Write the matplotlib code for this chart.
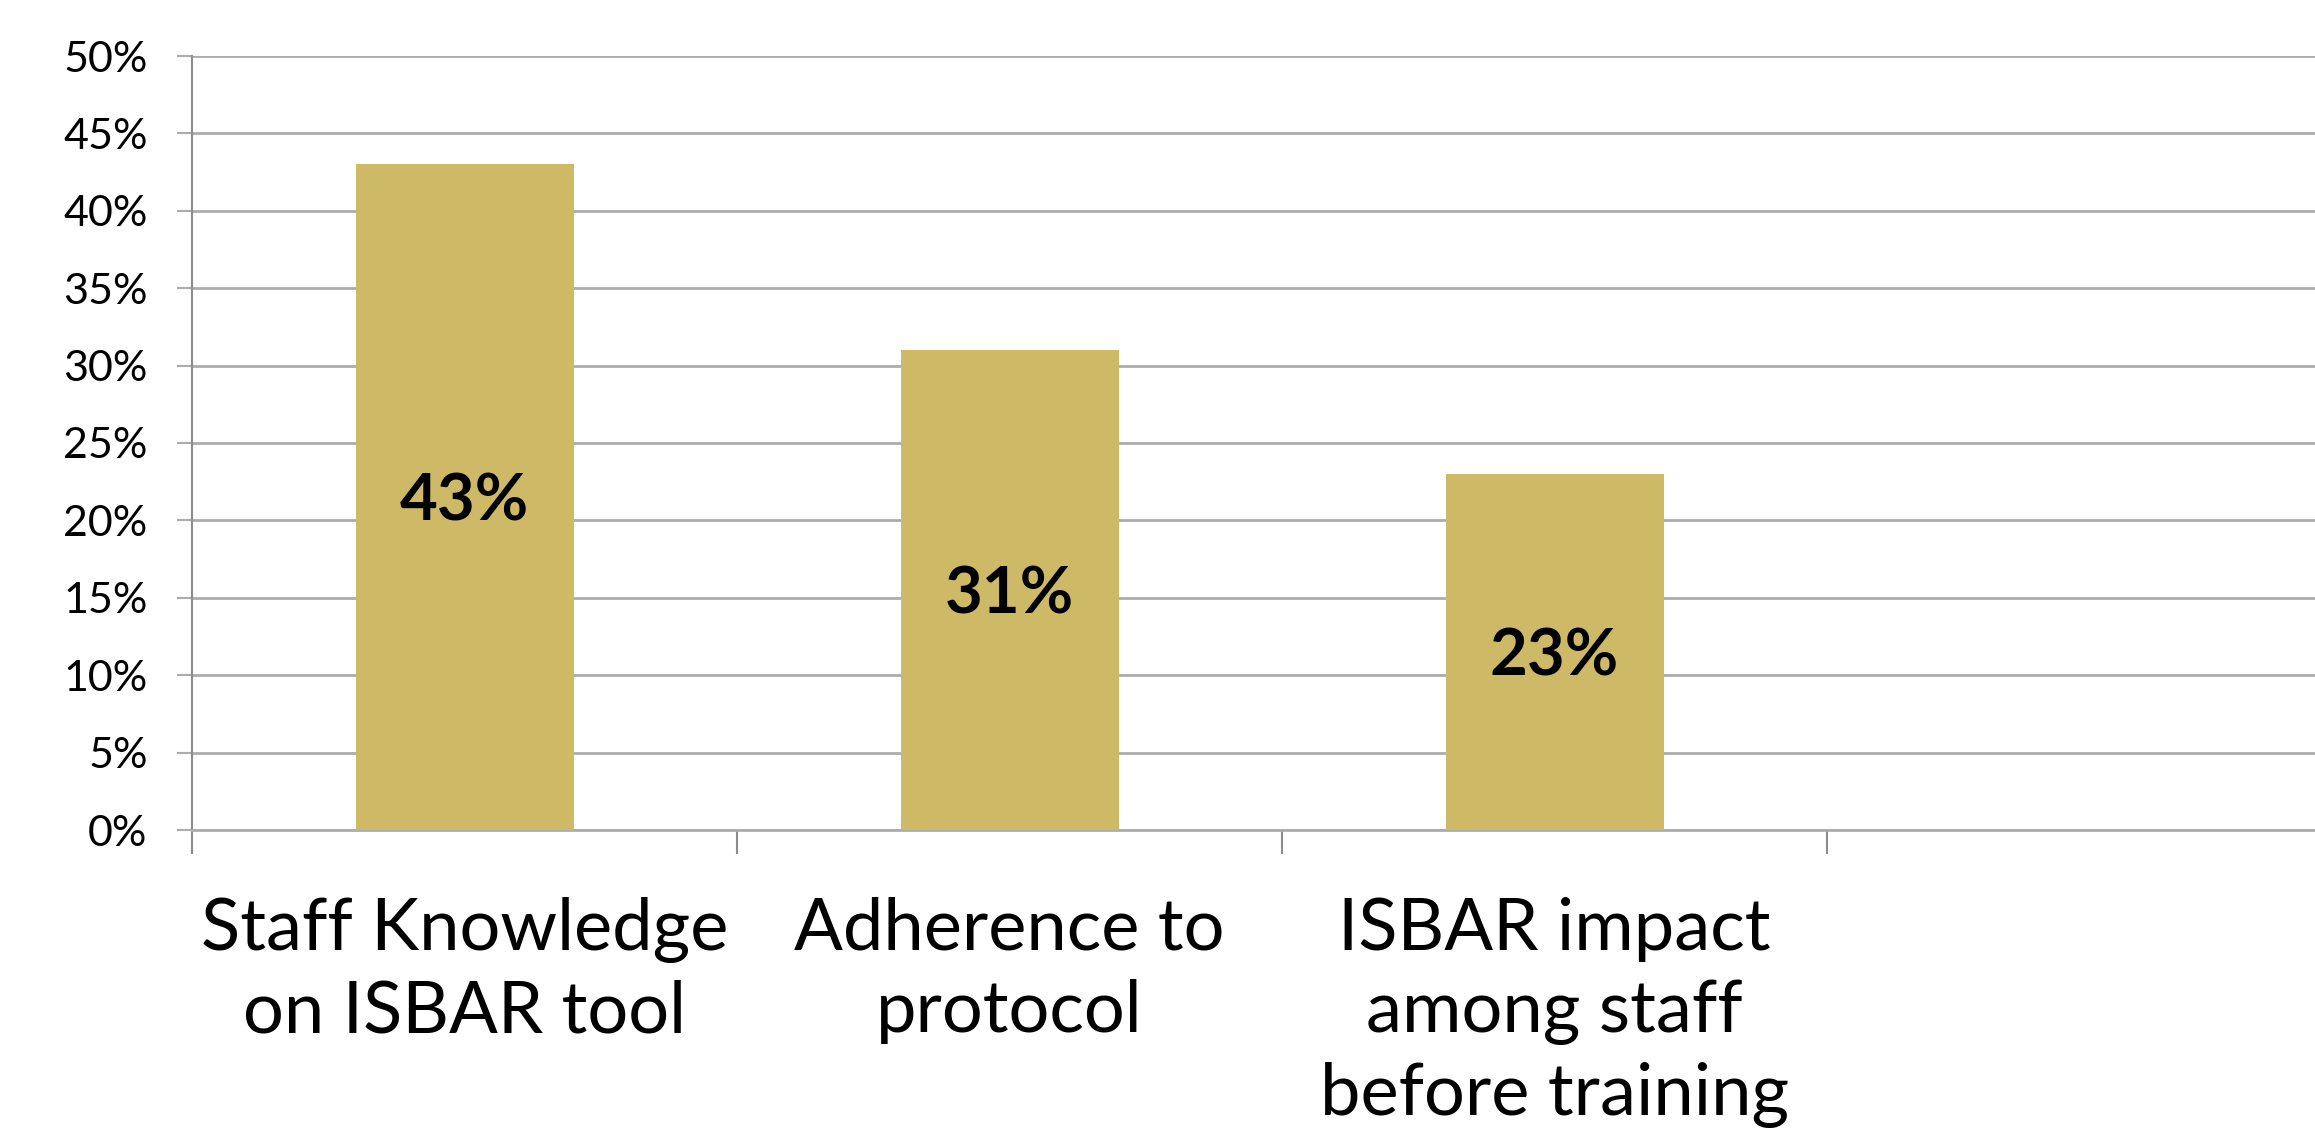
import matplotlib
matplotlib.use("Agg")
import matplotlib.pyplot as plt
from matplotlib.ticker import FuncFormatter

categories = ["Staff Knowledge\non ISBAR tool", "Adherence to\nprotocol", "ISBAR impact\namong staff\nbefore training"]
values = [43, 31, 23]
value_labels = ["43%", "31%", "23%"]
yticks = [0, 5, 10, 15, 20, 25, 30, 35, 40, 45, 50]

plt.rcParams['font.family'] = ['Lato', 'DejaVu Sans']

W, H = 2315, 1139
fig = plt.figure(figsize=(W / 100, H / 100), dpi=100)
left = 192 / W
bottom = (H - 830) / H
top = (H - 56) / H
ax = fig.add_axes([left, bottom, 1.0 - left, top - bottom])

bar_color = "#CEB966"
grid_color = "#ACACAC"
axis_color = "#8C8C8C"

x = list(range(len(categories)))
ax.bar(x, values, width=0.4, color=bar_color, zorder=3)

for xi, v, lab in zip(x, values, value_labels):
    ax.text(xi, v / 2 - 0.3, lab, ha="center", va="center", fontsize=47,
            fontweight="bold", color="black", zorder=4)

ax.set_yticks(yticks)
ax.yaxis.set_major_formatter(FuncFormatter(lambda v, p: f"{int(v)}%"))
ax.tick_params(axis="y", which="major", length=11, width=1.5, color=grid_color,
               labelsize=31, pad=21, labelcolor="black")
ax.yaxis.grid(True, color=grid_color, linewidth=2, zorder=0)
ax.set_axisbelow(True)

# category boundary ticks
ax.set_xticks([-0.5, 0.5, 1.5, 2.5, 3.5])
ax.set_xticklabels([])
ax.tick_params(axis="x", which="major", length=17, width=1.5, color=axis_color, direction="out")
ax.set_xticks(x, minor=True)
ax.set_xticklabels(categories, minor=True, fontsize=52, linespacing=1.32)
ax.tick_params(axis="x", which="minor", length=0, pad=48, labelcolor="black")
for t in ax.get_xticklabels(minor=True):
    t.set_verticalalignment("top")

ax.set_ylim(0, 50)
ax.set_xlim(-0.5, -0.5 + (W - 192) / 545)

for s in ["top", "right"]:
    ax.spines[s].set_visible(False)
ax.spines["left"].set_color(axis_color)
ax.spines["left"].set_linewidth(1.5)
ax.spines["bottom"].set_color(grid_color)
ax.spines["bottom"].set_linewidth(2)

fig.savefig("out.png", dpi=100)
